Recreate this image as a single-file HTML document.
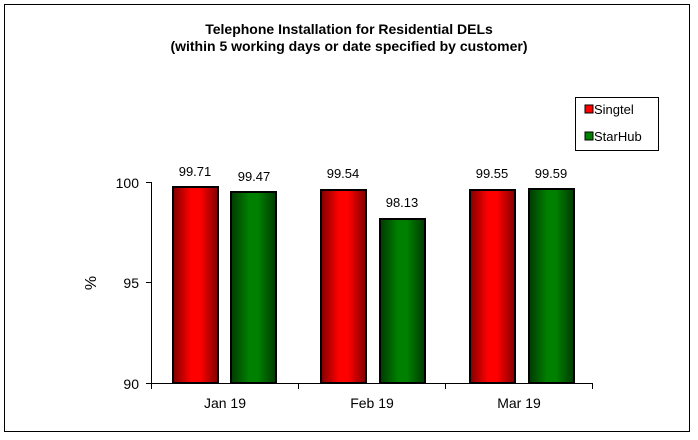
<!DOCTYPE html><html><head><style>body{margin:0;background:#fff}svg{display:block}</style></head><body>
<svg width="698" height="440" xmlns="http://www.w3.org/2000/svg" font-family="Liberation Sans, Arial, sans-serif">
<defs>
<linearGradient id="r" x1="0" x2="1"><stop offset="0" stop-color="#800000"/><stop offset="0.4" stop-color="#ff0000"/><stop offset="0.6" stop-color="#ff0000"/><stop offset="1" stop-color="#800000"/></linearGradient>
<linearGradient id="g" x1="0" x2="1"><stop offset="0" stop-color="#003a00"/><stop offset="0.4" stop-color="#008000"/><stop offset="0.6" stop-color="#008000"/><stop offset="1" stop-color="#003a00"/></linearGradient>
</defs>
<rect x="4.5" y="4.5" width="685" height="427" fill="#fff" stroke="#000"/>
<text x="349" y="34" text-anchor="middle" font-size="14" font-weight="bold">Telephone Installation for Residential DELs</text>
<text x="349" y="51" text-anchor="middle" font-size="14" font-weight="bold">(within 5 working days or date specified by customer)</text>
<g stroke="#000" stroke-width="1">
<line x1="151.5" y1="182" x2="151.5" y2="383.5"/>
<line x1="151" y1="383.5" x2="592" y2="383.5"/>
<line x1="146" y1="182.5" x2="151" y2="182.5"/><line x1="146" y1="282.5" x2="151" y2="282.5"/><line x1="146" y1="383.5" x2="151" y2="383.5"/>
<line x1="298.5" y1="383" x2="298.5" y2="389"/><line x1="445.5" y1="383" x2="445.5" y2="389"/><line x1="592.5" y1="383" x2="592.5" y2="389"/><line x1="151.5" y1="383" x2="151.5" y2="389"/>
</g>
<g font-size="14" text-anchor="end"><text x="139" y="188">100</text><text x="139" y="288">95</text><text x="139" y="389">90</text></g>
<text x="96" y="283" font-size="16" text-anchor="middle" transform="rotate(-90 96 283)">%</text>
<g stroke="#000" stroke-width="2">
<rect x="173" y="187" width="45" height="196" fill="url(#r)"/>
<rect x="231" y="192" width="45" height="191" fill="url(#g)"/>
<rect x="321" y="190" width="45" height="193" fill="url(#r)"/>
<rect x="380" y="219" width="45" height="164" fill="url(#g)"/>
<rect x="470" y="190" width="45" height="193" fill="url(#r)"/>
<rect x="529" y="189" width="45" height="194" fill="url(#g)"/>
</g>
<g font-size="13" text-anchor="middle">
<text x="195" y="176">99.71</text><text x="254" y="181">99.47</text>
<text x="343" y="178">99.54</text><text x="402" y="207">98.13</text>
<text x="492" y="178">99.55</text><text x="551" y="178">99.59</text>
</g>
<g font-size="14" text-anchor="middle"><text x="225" y="408">Jan 19</text><text x="372" y="408">Feb 19</text><text x="519" y="408">Mar 19</text></g>
<rect x="575.5" y="97.5" width="83" height="53" fill="#fff" stroke="#000"/>
<rect x="585" y="105" width="8" height="8" fill="#f00" stroke="#000"/>
<rect x="585" y="132" width="8" height="8" fill="#008000" stroke="#000"/>
<g font-size="13"><text x="594" y="114">Singtel</text><text x="594" y="141">StarHub</text></g>
</svg></body></html>
